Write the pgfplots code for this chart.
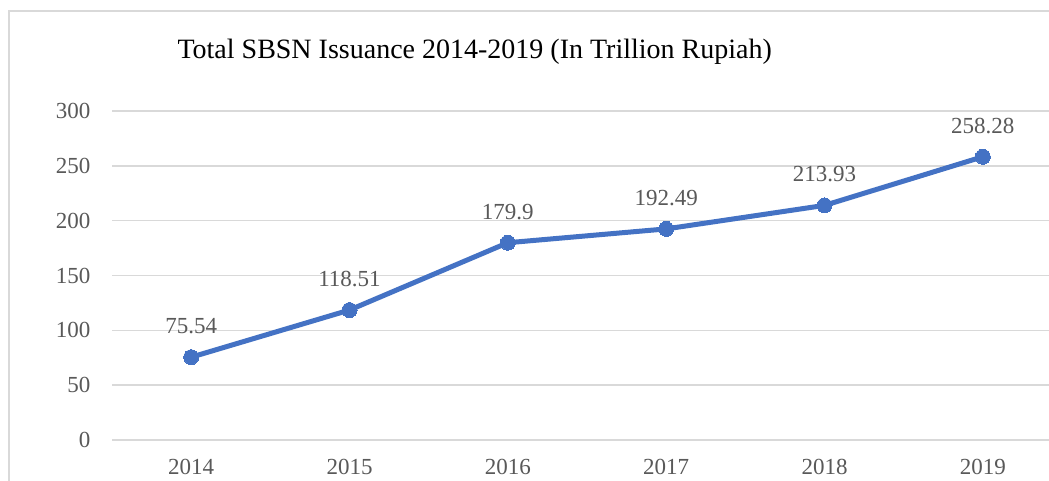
\documentclass[border=0pt]{standalone}
\usepackage{fontspec}
\setmainfont{Liberation Serif}
\usepackage{pgfplots}
\pgfplotsset{compat=1.18}
\definecolor{lineblue}{HTML}{4472C4}
\definecolor{gridgray}{HTML}{D9D9D9}
\definecolor{ticktext}{HTML}{595959}
\begin{document}
\begin{tikzpicture}[x=1pt,y=1pt]
\useasboundingbox (0,0) rectangle (1049,-480);
\clip (0,0) rectangle (1049,-480);
\fill[white] (0,0) rectangle (1049,-480);
\draw[gridgray, line width=1.5pt] (9,-11) rectangle (1120,-540);
\node[anchor=west, font=\fontsize{28}{32}\selectfont, text=black] at (174,-52) {Total SBSN Issuance 2014-2019 (In Trillion Rupiah)};
\begin{axis}[
  at={(112pt,-440pt)}, anchor=south west,
  scale only axis, width=950pt, height=329pt,
  xmin=-0.5, xmax=5.5, ymin=0, ymax=300,
  axis line style={draw=none},
  major tick length=0pt,
  ymajorgrids,
  grid style={gridgray, line width=1.5pt},
  xtick={0,1,2,3,4,5},
  xticklabels={2014,2015,2016,2017,2018,2019},
  ytick={0,50,100,150,200,250,300},
  /pgf/number format/assume math mode=true,
  tick label style={font=\fontsize{23}{27}\selectfont, text=ticktext},
  yticklabel style={xshift=-18pt},
  xticklabel style={yshift=-16pt},
  clip=false,
  point meta=explicit symbolic,
  nodes near coords={\pgfplotspointmeta},
  every node near coord/.append style={font=\fontsize{23}{27}\selectfont, text=ticktext, anchor=south, yshift=20pt},
]
\addplot[color=lineblue, line width=5pt, mark=*, mark size=7.5pt, mark options={fill=lineblue, draw=lineblue, line width=0pt}]
coordinates {
(0,75.54) [75.54]
(1,118.51) [118.51]
(2,179.9) [179.9]
(3,192.49) [192.49]
(4,213.93) [213.93]
(5,258.28) [258.28]
};
\end{axis}
\end{tikzpicture}
\end{document}
